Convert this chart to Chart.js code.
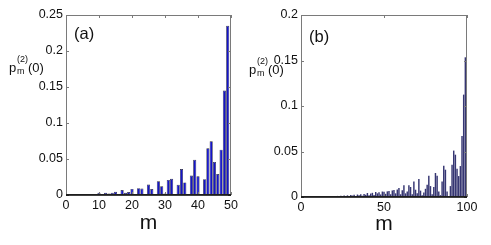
<!DOCTYPE html>
<html>
<head>
<meta charset="utf-8">
<script src="https://cdn.jsdelivr.net/npm/chart.js@4.4.1/dist/chart.umd.min.js"></script>
<style>
  html, body { margin: 0; padding: 0; background: #fff; }
  #wrap { position: relative; width: 491px; height: 245px; overflow: hidden; font-family: 'Liberation Sans', Arial, sans-serif; color: #111; }
  canvas { position: absolute; top: 0; }
  .lbl { position: absolute; white-space: nowrap; line-height: 1; }
</style>
</head>
<body>
<div id="wrap">
  <canvas id="chartA" width="245" height="245" style="left:0"></canvas>
  <canvas id="chartB" width="246" height="245" style="left:245px"></canvas>

  <span class="lbl" style="left:74px;top:25px;font-size:16.5px">(a)</span>
  <span class="lbl" style="left:309px;top:28px;font-size:16.5px">(b)</span>

  <span class="lbl" style="left:9px;top:61px;font-size:13px">p</span>
  <span class="lbl" style="left:17px;top:55px;font-size:9px">(2)</span>
  <span class="lbl" style="left:17px;top:67px;font-size:9px">m</span>
  <span class="lbl" style="left:28px;top:61px;font-size:13px">(0)</span>

  <span class="lbl" style="left:249px;top:63px;font-size:13px">p</span>
  <span class="lbl" style="left:257px;top:57px;font-size:9px">(2)</span>
  <span class="lbl" style="left:257px;top:69px;font-size:9px">m</span>
  <span class="lbl" style="left:268px;top:63px;font-size:13px">(0)</span>
</div>
<script>
// panel (a)
const mA = [1, 2, 3, 4, 5, 6, 7, 8, 9, 10, 11, 12, 13, 14, 15, 16, 17, 18, 19, 20,
  21, 22, 23, 24, 25, 26, 27, 28, 29, 30, 31, 32, 33, 34, 35, 36, 37, 38, 39, 40,
  41, 42, 43, 44, 45, 46, 47, 48, 49, 50];
const pA = [0, 0, 0, 0.0005, 0.0005, 0.0008, 0.0005, 0.0015, 0.001, 0.003,
  0.0005, 0.003, 0.002, 0.003, 0.0045, 0.001, 0.007, 0.003, 0.004, 0.0085,
  0.001, 0.0095, 0.009, 0.001, 0.0145, 0.0083, 0.001, 0.019, 0.012, 0.002,
  0.021, 0.0226, 0.001, 0.0143, 0.036, 0.0175, 0.001, 0.027, 0.049, 0.026,
  0.0005, 0.022, 0.065, 0.0745, 0.046, 0.029, 0.063, 0.145, 0.235, 0];
const xTicksA = [0, 10, 20, 30, 40, 50];
const yTicksA = [0, 0.05, 0.1, 0.15, 0.2, 0.25];

// panel (b)
const mB = [1, 2, 3, 4, 5, 6, 7, 8, 9, 10, 11, 12, 13, 14, 15, 16, 17, 18, 19, 20,
  21, 22, 23, 24, 25, 26, 27, 28, 29, 30, 31, 32, 33, 34, 35, 36, 37, 38, 39, 40,
  41, 42, 43, 44, 45, 46, 47, 48, 49, 50, 51, 52, 53, 54, 55, 56, 57, 58, 59, 60,
  61, 62, 63, 64, 65, 66, 67, 68, 69, 70, 71, 72, 73, 74, 75, 76, 77, 78, 79, 80,
  81, 82, 83, 84, 85, 86, 87, 88, 89, 90, 91, 92, 93, 94, 95, 96, 97, 98, 99, 100];
const pB = [0, 0, 0, 0, 0, 0.0001, 0.0002, 0.0001, 0.0003, 0.0002,
  0.0003, 0.0004, 0.0002, 0.0005, 0.0004, 0.0006, 0.0003, 0.0008, 0.0006, 0.0009,
  0.0005, 0.0012, 0.0009, 0.0013, 0.0007, 0.0016, 0.0012, 0.0018, 0.0009, 0.0021,
  0.0016, 0.0024, 0.0012, 0.0027, 0.0019, 0.003, 0.0014, 0.0034, 0.0025, 0.0044,
  0.0018, 0.0038, 0.0046, 0.0022, 0.0055, 0.004, 0.0052, 0.0028, 0.006, 0.0058,
  0.0035, 0.0062, 0.0066, 0.003, 0.0072, 0.0077, 0.004, 0.0082, 0.0099, 0.003,
  0.0075, 0.0128, 0.004, 0.006, 0.0128, 0.011, 0.003, 0.017, 0.008, 0.004,
  0.0198, 0.007, 0.002, 0.005, 0.009, 0.0135, 0.0234, 0.012, 0.003, 0.011,
  0.0264, 0.0234, 0.006, 0.002, 0.017, 0.0344, 0.030, 0.006, 0.001, 0.012,
  0.0355, 0.051, 0.0465, 0.031, 0.023, 0.034, 0.067, 0.1125, 0.1535, 0];
const xTicksB = [0, 50, 100];
const yTicksB = [0, 0.05, 0.1, 0.15, 0.2];

const FONT = "'Liberation Sans', Arial, sans-serif";

// box with inward ticks on all four sides, black zero line
const framePlugin = {
  id: 'frame',
  afterDraw(chart) {
    const { ctx, chartArea: a, scales: { x, y } } = chart;
    const len = 3;
    ctx.save();
    ctx.strokeStyle = '#7a7a7a';
    ctx.lineWidth = 1;
    ctx.strokeRect(a.left + 0.5, a.top + 0.5, a.right - a.left - 1, a.bottom - a.top - 1);
    ctx.beginPath();
    x.ticks.forEach((t) => {
      const px = Math.round(x.getPixelForValue(t.value)) + 0.5;
      ctx.moveTo(px, a.bottom); ctx.lineTo(px, a.bottom - len);
      ctx.moveTo(px, a.top); ctx.lineTo(px, a.top + len);
    });
    y.ticks.forEach((t) => {
      const py = Math.round(y.getPixelForValue(t.value)) + 0.5;
      ctx.moveTo(a.left, py); ctx.lineTo(a.left + len, py);
      ctx.moveTo(a.right, py); ctx.lineTo(a.right - len, py);
    });
    ctx.stroke();
    const y0 = y.getPixelForValue(0);
    ctx.strokeStyle = '#000';
    ctx.lineWidth = 1.5;
    ctx.beginPath();
    ctx.moveTo(a.left, y0);
    ctx.lineTo(a.right, y0);
    ctx.stroke();
    ctx.restore();
  }
};

function makeChart(id, ms, ps, xTicks, yTicks, box, bar) {
  new Chart(document.getElementById(id), {
    type: 'bar',
    data: {
      datasets: [{
        data: ms.map((m, i) => ({ x: m, y: ps[i] })),
        backgroundColor: bar.fill,
        borderColor: bar.edge,
        borderWidth: bar.edgeWidth,
        borderSkipped: 'start',
        barPercentage: bar.width,
        categoryPercentage: 1
      }]
    },
    options: {
      responsive: false,
      animation: false,
      events: [],
      layout: { padding: { top: box.top, right: box.right, left: 0, bottom: 0 } },
      plugins: { legend: { display: false }, tooltip: { enabled: false } },
      scales: {
        x: {
          type: 'linear',
          min: xTicks[0],
          max: xTicks[xTicks.length - 1],
          offset: false,
          grid: { display: false, offset: false, drawTicks: false },
          border: { display: false },
          afterBuildTicks: (s) => { s.ticks = xTicks.map((v) => ({ value: v })); },
          afterFit: (s) => { s.height = box.xh; },
          ticks: { color: '#111', font: { family: FONT, size: 12.5 }, padding: 3, maxRotation: 0, autoSkip: false,
            callback: (v) => String(v) },
          title: { display: true, text: 'm', color: '#111', font: { family: FONT, size: 21 }, padding: { top: 0, bottom: box.titlePad } }
        },
        y: {
          min: yTicks[0],
          max: yTicks[yTicks.length - 1],
          grid: { display: false, drawTicks: false },
          border: { display: false },
          afterBuildTicks: (s) => { s.ticks = yTicks.map((v) => ({ value: v })); },
          afterFit: (s) => { s.width = box.yw; },
          ticks: { color: '#111', font: { family: FONT, size: 12.5 }, padding: 3, autoSkip: false,
            callback: (v) => String(v) }
        }
      }
    },
    plugins: [framePlugin]
  });
}

makeChart('chartA', mA, pA, xTicksA, yTicksA,
  { top: 15, right: 14, xh: 50, yw: 66, titlePad: 9 },
  { fill: '#1414c8', edge: '#2a2a3a', edgeWidth: 0.7, width: 0.95 });

makeChart('chartB', mB, pB, xTicksB, yTicksB,
  { top: 15, right: 24, xh: 48, yw: 56, titlePad: 8 },
  { fill: '#363672', edge: '#363672', edgeWidth: 0, width: 0.88 });
</script>
</body>
</html>
